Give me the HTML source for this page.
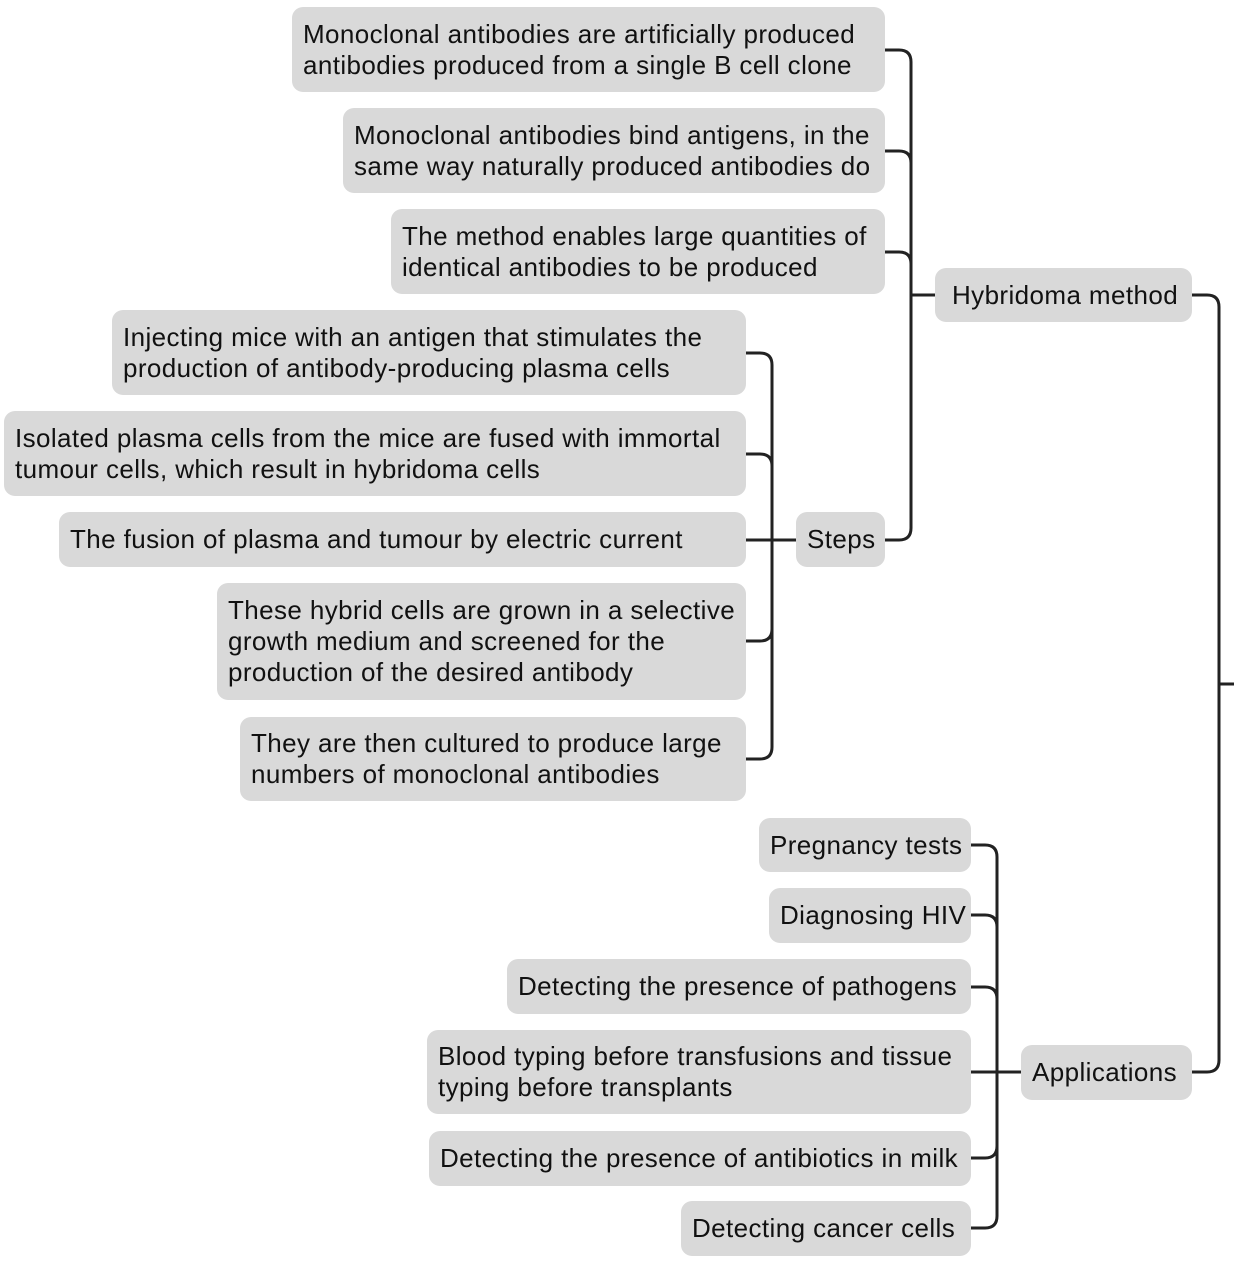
<!DOCTYPE html>
<html><head><meta charset="utf-8"><style>
body{margin:0;width:1234px;height:1278px;background:#fff;position:relative;overflow:hidden;font-family:"Liberation Sans",sans-serif;}
.b{position:absolute;background:#d9d9d9;border-radius:11px;box-sizing:border-box;padding-left:11px;display:flex;align-items:center;font-size:26px;line-height:31px;color:#111;white-space:nowrap;letter-spacing:0.4px;}
svg{position:absolute;left:0;top:0}
</style></head><body>
<svg width="1234" height="1278" fill="none" stroke="#222" stroke-width="3">
<path d="M885,50 H899 Q911,50 911,62 V528 Q911,540 899,540 H885"/>
<path d="M885,151 H899 Q911,151 911,163"/>
<path d="M885,252 H899 Q911,252 911,264"/>
<path d="M911,295 H935"/>
<path d="M746,353 H760 Q772,353 772,365 V747 Q772,759 760,759 H746"/>
<path d="M746,454 H760 Q772,454 772,466"/>
<path d="M746,641 H760 Q772,641 772,629"/>
<path d="M746,540 H796"/>
<path d="M971,845 H985 Q997,845 997,857 V1216 Q997,1228 985,1228 H971"/>
<path d="M971,915 H985 Q997,915 997,927"/>
<path d="M971,987 H985 Q997,987 997,999"/>
<path d="M971,1158 H985 Q997,1158 997,1146"/>
<path d="M971,1072 H1021"/>
<path d="M1192,295 H1207 Q1219,295 1219,307 V1060 Q1219,1072 1207,1072 H1192"/>
<path d="M1219,684 H1234"/>
</svg>
<div class="b" style="left:292px;top:7px;width:593px;height:85px">Monoclonal antibodies are artificially produced<br>antibodies produced from a single B cell clone</div>
<div class="b" style="left:343px;top:108px;width:542px;height:85px">Monoclonal antibodies bind antigens, in the<br>same way naturally produced antibodies do</div>
<div class="b" style="left:391px;top:209px;width:494px;height:85px">The method enables large quantities of<br>identical antibodies to be produced</div>
<div class="b" style="left:935px;top:268px;width:257px;height:54px;padding-left:17px">Hybridoma method</div>
<div class="b" style="left:796px;top:512px;width:89px;height:55px">Steps</div>
<div class="b" style="left:112px;top:310px;width:634px;height:85px">Injecting mice with an antigen that stimulates the<br>production of antibody-producing plasma cells</div>
<div class="b" style="left:4px;top:411px;width:742px;height:85px">Isolated plasma cells from the mice are fused with immortal<br>tumour cells, which result in hybridoma cells</div>
<div class="b" style="left:59px;top:512px;width:687px;height:55px">The fusion of plasma and tumour by electric current</div>
<div class="b" style="left:217px;top:583px;width:529px;height:117px">These hybrid cells are grown in a selective<br>growth medium and screened for the<br>production of the desired antibody</div>
<div class="b" style="left:240px;top:717px;width:506px;height:84px">They are then cultured to produce large<br>numbers of monoclonal antibodies</div>
<div class="b" style="left:759px;top:818px;width:212px;height:54px">Pregnancy tests</div>
<div class="b" style="left:769px;top:888px;width:202px;height:55px">Diagnosing HIV</div>
<div class="b" style="left:507px;top:959px;width:464px;height:55px">Detecting the presence of pathogens</div>
<div class="b" style="left:427px;top:1030px;width:544px;height:84px">Blood typing before transfusions and tissue<br>typing before transplants</div>
<div class="b" style="left:429px;top:1131px;width:542px;height:55px">Detecting the presence of antibiotics in milk</div>
<div class="b" style="left:681px;top:1201px;width:290px;height:55px">Detecting cancer cells</div>
<div class="b" style="left:1021px;top:1045px;width:171px;height:55px">Applications</div>
</body></html>
